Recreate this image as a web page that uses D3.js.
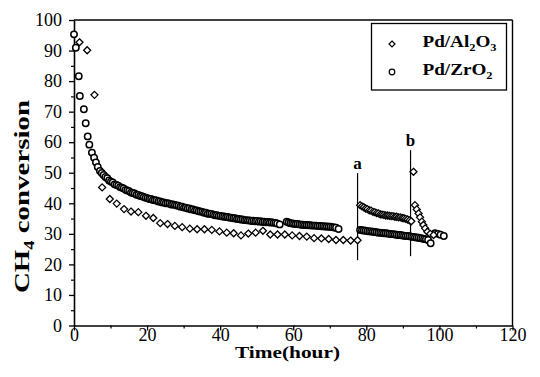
<!DOCTYPE html>
<html><head><meta charset="utf-8">
<script src="https://cdn.jsdelivr.net/npm/d3@7"></script>
<style>
html,body{margin:0;padding:0;background:#fff;}
svg{display:block;}
svg text{font-family:"Liberation Serif","Times New Roman",Times,serif;}
</style></head>
<body><svg id="c" width="540" height="377"></svg>
<script>
// ---- data (Time in hours, CH4 conversion %) ----
const xTicks = [0, 20, 40, 60, 80, 100, 120];
const yTicks = [0, 10, 20, 30, 40, 50, 60, 70, 80, 90, 100];
const seriesNames = ["Pd/Al2O3", "Pd/ZrO2"];

// Pd/Al2O3 (diamonds)
const alTime = [1.5,3.6,5.6,7.7,9.8,11.7,13.7,15.6,17.6,19.7,21.7,23.6,25.6,27.6,29.6,31.7,33.7,35.7,37.7,39.8,41.8,43.7,45.7,47.7,49.7,51.7,53.7,55.7,57.7,59.7,61.7,63.7,65.7,67.7,69.7,71.7,73.7,75.7,77.6,
  78.3,78.8,79.3,79.8,80.3,80.8,81.3,81.8,82.3,82.8,83.3,83.8,84.3,84.8,85.3,85.8,86.3,86.8,87.3,87.8,88.3,88.8,89.3,89.8,90.3,90.8,91.3,91.8,92.3,
  92.9,93.3,93.8,94.3,94.7,95.2,95.6,96.1,96.7,97.5,98.4];
const alConv = [92.7,90.1,75.5,45.2,41.4,39.9,38.1,37.3,37.1,35.9,35.2,33.5,33.2,32.6,32.2,31.7,31.5,31.5,31.3,30.8,30.4,30.2,29.5,30.1,30.4,31.0,29.8,29.8,29.8,29.5,29.3,29.1,28.6,28.5,28.3,28.0,28.0,27.8,27.9,
  39.4,39.0,38.7,38.3,38.1,37.7,37.6,37.2,37.1,36.8,36.7,36.4,36.3,36.2,36.0,36.0,35.9,35.8,35.8,35.6,35.6,35.4,35.4,35.2,35.1,34.9,34.7,34.4,34.1,
  50.3,39.4,38.0,36.7,35.4,34.0,32.9,31.8,30.7,30.0,29.6];

// Pd/ZrO2 (circles)
const zrTime = [0,0.5,1.3,1.6,2.7,3.2,3.75,4.2,4.9,5.5,6.0,6.5,7.1,
  7.6,8.1,8.6,9.1,9.6,10.1,10.6,11.1,11.6,12.1,12.6,13.1,13.6,14.1,14.6,15.1,15.6,16.1,16.6,17.1,17.6,18.1,18.6,19.1,19.6,20.1,20.6,21.1,21.6,22.1,22.6,23.1,23.6,24.1,24.6,25.1,25.6,26.1,26.6,27.1,27.6,28.1,28.6,29.1,29.6,30.1,30.6,31.1,31.6,32.1,32.6,33.1,33.6,34.1,34.6,35.1,35.6,36.1,36.6,37.1,37.6,38.1,38.6,39.1,39.6,40.1,40.6,41.1,41.6,42.1,42.6,43.1,43.6,44.1,44.6,45.1,45.6,46.1,46.6,47.1,47.6,48.1,48.6,49.1,49.6,50.1,50.6,51.1,51.6,52.1,52.6,53.1,53.6,54.1,54.6,55.1,55.6,56.3,
  58.2,58.7,59.2,59.7,60.2,60.7,61.2,61.7,62.2,62.7,63.2,63.7,64.2,64.7,65.2,65.7,66.2,66.7,67.2,67.7,68.2,68.7,69.2,69.7,70.2,70.7,71.2,71.7,72.4,
  78.3,78.8,79.3,79.8,80.3,80.8,81.3,81.8,82.3,82.8,83.3,83.8,84.3,84.8,85.3,85.8,86.3,86.8,87.3,87.8,88.3,88.8,89.3,89.8,90.3,90.8,91.3,91.8,92.3,92.8,93.3,93.8,94.3,94.8,95.3,95.8,96.3,96.9,97.6,98.8,99.6,100.3,101.2];
const zrConv = [95.3,90.9,81.6,75.1,70.8,66.2,61.9,59.2,56.6,54.9,53.4,51.9,50.6,
  49.9,49.3,48.6,48.2,47.5,47.1,46.8,46.2,46.0,45.8,45.3,45.1,44.9,44.4,44.2,44.0,43.5,43.4,43.2,42.8,42.7,42.4,42.3,42.1,41.8,41.7,41.4,41.4,41.1,41.0,40.9,40.6,40.6,40.3,40.3,40.0,40.0,39.9,39.6,39.6,39.5,39.3,39.2,38.9,38.9,38.6,38.6,38.3,38.3,38.0,38.0,37.7,37.7,37.4,37.3,37.2,36.9,36.9,36.6,36.6,36.5,36.3,36.1,36.1,35.9,35.9,35.7,35.7,35.5,35.5,35.3,35.3,35.1,35.1,34.9,34.9,34.7,34.7,34.5,34.5,34.4,34.4,34.2,34.3,34.1,34.2,34.0,34.1,33.9,34.0,33.8,33.9,33.7,33.8,33.6,33.6,33.4,33.1,
  34.0,33.7,33.5,33.4,33.3,33.2,33.2,33.1,33.0,33.0,32.9,32.9,32.8,32.8,32.7,32.7,32.7,32.6,32.6,32.5,32.5,32.4,32.4,32.3,32.3,32.2,32.1,32.0,31.6,
  31.3,31.2,31.1,31.0,30.9,30.8,30.8,30.7,30.6,30.5,30.4,30.4,30.3,30.2,30.2,30.1,30.0,29.9,29.9,29.8,29.7,29.6,29.6,29.5,29.4,29.3,29.3,29.2,29.1,29.0,28.9,28.8,28.7,28.6,28.5,28.3,28.2,28.0,26.9,30.2,30.0,29.7,29.3];

// event markers (time, label, top conversion, bottom conversion)
const eventTime = [77.6, 92.1];
const eventLabel = ["a", "b"];
const eventTop = [49.9, 57.4];
const eventBottom = [21.4, 22.7];

// ---- drawing ----
const FONT = '"Liberation Serif","Times New Roman",Times,serif';
const svg = d3.select("#c");
const x = d3.scaleLinear().domain([0, 120]).range([74, 512.5]);
const y = d3.scaleLinear().domain([0, 100]).range([325.5, 20]);

// frame top and right
svg.append("line").attr("x1", x(0)).attr("x2", x(120)).attr("y1", y(100)).attr("y2", y(100))
  .attr("stroke", "#000").attr("stroke-width", 1.4);
svg.append("line").attr("x1", x(120)).attr("x2", x(120)).attr("y1", y(100)).attr("y2", y(0))
  .attr("stroke", "#000").attr("stroke-width", 1.4);

// minor ticks
svg.append("g").attr("transform", `translate(0,${y(0)})`)
  .call(d3.axisBottom(x).tickValues(d3.range(10, 120, 20)).tickSize(3).tickSizeOuter(0).tickFormat(""))
  .call(g => g.select(".domain").remove())
  .call(g => g.selectAll("line").attr("stroke-width", 1.2));
svg.append("g").attr("transform", `translate(${x(0)},0)`)
  .call(d3.axisLeft(y).tickValues(d3.range(5, 100, 10)).tickSize(3).tickSizeOuter(0).tickFormat(""))
  .call(g => g.select(".domain").remove())
  .call(g => g.selectAll("line").attr("stroke-width", 1.2));

// main axes
const xa = svg.append("g").attr("transform", `translate(0,${y(0)})`)
  .call(d3.axisBottom(x).tickValues(xTicks).tickSize(5).tickSizeOuter(0));
xa.attr("font-family", FONT);
xa.select(".domain").attr("stroke-width", 1.6);
xa.selectAll("line").attr("stroke-width", 1.3);
xa.selectAll("text").style("font-family", FONT).attr("font-size", 18).attr("fill", "#000")
  .attr("y", 15.5).attr("dy", 0);

const ya = svg.append("g").attr("transform", `translate(${x(0)},0)`)
  .call(d3.axisLeft(y).tickValues(yTicks).tickSize(5).tickPadding(7).tickSizeOuter(0));
ya.attr("font-family", FONT);
ya.select(".domain").attr("stroke-width", 1.6);
ya.selectAll("line").attr("stroke-width", 1.3);
ya.selectAll("text").style("font-family", FONT).attr("font-size", 18).attr("fill", "#000")
  .attr("dy", "0.32em");

// axis titles
svg.append("text").attr("x", 287.5).attr("y", 357.5).attr("text-anchor", "middle")
  .style("font-family", FONT).attr("font-weight", "bold").attr("font-size", 16.5)
  .attr("textLength", 105).attr("lengthAdjust", "spacingAndGlyphs").text("Time(hour)");

const yl = svg.append("text").attr("transform", "translate(29,196.5) rotate(-90)")
  .style("font-family", FONT)
  .attr("text-anchor", "middle").attr("font-weight", "bold").attr("font-size", 22)
  .attr("textLength", 193).attr("lengthAdjust", "spacingAndGlyphs");
yl.append("tspan").text("CH");
yl.append("tspan").attr("font-size", 14).attr("dy", 5).text("4");
yl.append("tspan").attr("dy", -5).text(" conversion");

// event lines
eventTime.forEach((t, i) => {
  svg.append("line").attr("x1", x(t)).attr("x2", x(t)).attr("y1", y(eventTop[i])).attr("y2", y(eventBottom[i]))
    .attr("stroke", "#000").attr("stroke-width", 1.2);
  svg.append("text").attr("x", x(t)).attr("y", y(eventTop[i]) - 4).attr("text-anchor", "middle")
    .style("font-family", FONT).attr("font-weight", "bold").attr("font-size", 17).text(eventLabel[i]);
});

// markers
const diamond = "M0,-3.5L3.5,0L0,3.5L-3.5,0Z";
const zr = zrTime.map((t, i) => [t, zrConv[i]]);
const al = alTime.map((t, i) => [t, alConv[i]]);

svg.append("g").selectAll("circle").data(zr).join("circle")
  .attr("cx", d => x(d[0])).attr("cy", d => y(d[1])).attr("r", 3.2)
  .attr("fill", "#fff").attr("stroke", "#000").attr("stroke-width", 1.5);
svg.append("g").selectAll("path").data(al).join("path")
  .attr("transform", d => `translate(${x(d[0])},${y(d[1])})`).attr("d", diamond)
  .attr("fill", "#fff").attr("stroke", "#000").attr("stroke-width", 1.3);

// legend
const lg = svg.append("g");
lg.append("rect").attr("x", 371.5).attr("y", 23.5).attr("width", 135).attr("height", 66.5)
  .attr("fill", "#fff").attr("stroke", "#000").attr("stroke-width", 1.3);
lg.append("path").attr("transform", "translate(392,44)").attr("d", "M0,-3L3,0L0,3L-3,0Z")
  .attr("fill", "#fff").attr("stroke", "#000").attr("stroke-width", 1.2);
lg.append("circle").attr("cx", 392).attr("cy", 72).attr("r", 2.8)
  .attr("fill", "#fff").attr("stroke", "#000").attr("stroke-width", 1.2);

const t1 = lg.append("text").attr("x", 422.5).attr("y", 46.5).style("font-family", FONT)
  .attr("font-weight", "bold").attr("font-size", 17)
  .attr("textLength", 74).attr("lengthAdjust", "spacingAndGlyphs");
t1.append("tspan").text("Pd/Al");
t1.append("tspan").attr("font-size", 11).attr("dy", 4).text("2");
t1.append("tspan").attr("dy", -4).text("O");
t1.append("tspan").attr("font-size", 11).attr("dy", 4).text("3");

const t2 = lg.append("text").attr("x", 422.5).attr("y", 75).style("font-family", FONT)
  .attr("font-weight", "bold").attr("font-size", 17)
  .attr("textLength", 70).attr("lengthAdjust", "spacingAndGlyphs");
t2.append("tspan").text("Pd/ZrO");
t2.append("tspan").attr("font-size", 11).attr("dy", 4).text("2");
</script></body></html>
